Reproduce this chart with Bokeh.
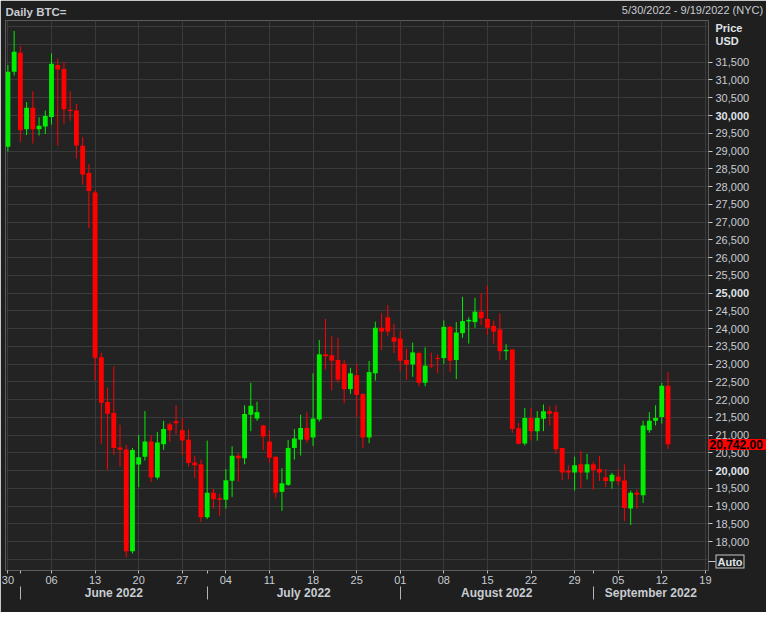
import pandas as pd
from bokeh.plotting import figure
from bokeh.models import (Range1d, FixedTicker, DatetimeAxis, DatetimeTickFormatter, LinearAxis,
                          NumeralTickFormatter, ColumnDataSource)
from bokeh.embed import file_html
from bokeh.resources import INLINE

# ---------------- data (daily BTC=, 2022-05-30 .. 2022-09-13) ----------------
start_date = "2022-05-30"
opens = [29124, 31233, 31767, 29612, 30218, 29612, 29692, 29959, 31420, 31313,
         30160, 30138, 29150, 28384, 27834, 23196, 21933, 21621, 20652, 20598,
         17731, 20171, 20393, 20820, 19805, 20748, 21309, 21389, 21140, 20873,
         20233, 20179, 18692, 19378, 19226, 19183, 19717, 20420, 20349, 21575,
         21468, 21274, 20820, 20393, 19405, 19600, 20641, 20873, 21202, 20935,
         21442, 23276, 23250, 23116, 23009, 22297, 22689, 22155, 20935, 22742,
         24024, 24318, 23757, 23722, 23116, 22991, 23312, 22475, 22965, 23170,
         23170, 24051, 23116, 23872, 24202, 24184, 24478, 24272, 24078, 23979,
         23365, 23410, 21194, 20766, 21487, 21113, 21460, 21676, 21649, 20641,
         20000, 19947, 20180, 19947, 20180, 20046, 19813, 19700, 19834, 19725,
         18933, 19378, 19306, 21140, 21407, 21514, 22395]
highs = [31420, 32381, 31954, 30379, 30680, 29951, 30138, 31748, 31599, 31500,
         30680, 30325, 29391, 28635, 27896, 23322, 22342, 22937, 21293, 20732,
         20641, 21007, 21676, 21007, 21087, 21407, 21362, 21843, 21487, 21159,
         20420, 20313, 20847, 19485, 19351, 20046, 20687, 20491, 21843, 22475,
         21941, 21290, 21140, 20400, 20073, 20865, 21175, 21575, 21648, 22742,
         23677, 24272, 23784, 23739, 23116, 22894, 23000, 22182, 23089, 24192,
         24432, 24657, 24139, 23936, 23429, 23605, 23357, 23472, 23322, 23268,
         24229, 24078, 24184, 24897, 24318, 24870, 25004, 25207, 24229, 24425,
         23562, 23420, 21344, 21763, 21763, 21676, 21864, 21811, 21843, 20650,
         20153, 20393, 20553, 20473, 20251, 20420, 20046, 19940, 20046, 20180,
         19439, 19466, 21407, 21648, 21843, 22475, 22777]
lows = [28990, 31126, 29257, 29452, 29212, 29436, 29479, 29746, 29150, 29765,
        29853, 28785, 28056, 26828, 22537, 20758, 20027, 20446, 20118, 17554,
        17669, 19538, 20286, 19680, 19752, 20588, 20820, 21025, 20446, 20118,
        19797, 18558, 18638, 18933, 18730, 18933, 19263, 19690, 20180, 21113,
        21407, 20580, 20225, 19226, 18871, 19574, 20313, 20428, 20775, 20695,
        21380, 22849, 22270, 22475, 21896, 22163, 21514, 20641, 20775, 22537,
        23402, 23784, 23311, 22804, 22564, 22644, 22377, 22377, 22894, 22742,
        23009, 22786, 22582, 23739, 23578, 24024, 24096, 23829, 23578, 23116,
        23116, 21068, 20740, 20713, 20846, 20846, 21113, 21274, 20473, 19733,
        19760, 19439, 19512, 19752, 19466, 19707, 19538, 19493, 19600, 18577,
        18470, 18933, 19092, 21068, 21274, 21327, 20607]
closes = [31233, 31794, 29586, 30218, 29612, 29711, 29986, 31455, 31294, 30173,
          30130, 29158, 28341, 27877, 23177, 21915, 21602, 20641, 20588, 17731,
          20580, 20377, 20820, 19805, 20793, 21175, 21140, 21336, 20847, 20214,
          20153, 18692, 19378, 19199, 19181, 19733, 20420, 20349, 21594, 21826,
          21648, 20961, 20366, 19378, 19645, 20641, 20908, 21202, 20873, 21468,
          23276, 23223, 23097, 22564, 22297, 22742, 22136, 20935, 22777, 24024,
          23917, 23917, 23631, 23097, 22991, 23330, 22475, 22956, 22938, 23143,
          24051, 23097, 23890, 24211, 24246, 24478, 24291, 24024, 23917, 23365,
          23402, 21175, 20758, 21487, 21113, 21487, 21676, 21602, 20607, 19947,
          19947, 20153, 19947, 20180, 20019, 19947, 19707, 19887, 19700, 18951,
          19378, 19325, 21274, 21407, 21487, 22395, 20742]

title_text = "Daily BTC="
period_text = "5/30/2022 - 9/19/2022 (NYC)"
last_price = 20742.00
price_ticks = list(range(18000, 32000, 500))      # labelled ticks
grid_ticks = list(range(17500, 33000, 500))       # horizontal grid lines
bold_ticks = [20000, 25000, 30000]
week_ticks = ["2022-05-30", "2022-06-06", "2022-06-13", "2022-06-20", "2022-06-27",
              "2022-07-04", "2022-07-11", "2022-07-18", "2022-07-25", "2022-08-01",
              "2022-08-08", "2022-08-15", "2022-08-22", "2022-08-29", "2022-09-05",
              "2022-09-12", "2022-09-19"]
month_starts = ["2022-06-01", "2022-07-01", "2022-08-01", "2022-09-01"]
view_start = "2022-05-29 14:40"
view_end = "2022-09-19 12:00"

# ---------------- styling ----------------
BG_OUT = "#1f1f1f"
BG_IN = "#232323"
GRID = "#3a3a3a"
TXT = "#c8ccd2"
TXT_B = "#dfe3e8"
UP = "#00ee00"
DOWN = "#ff0000"
FONT = "Liberation Sans"

FW, FH = 703, 550
RB = 58          # width of the right-hand price column

def ms(s):
    return pd.Timestamp(s).value / 1e6

DAY = 86400000.0
X0, X1 = ms(view_start), ms(view_end)

def frame_px_to_x(px):
    return X0 + (X1 - X0) * px / FW

dates = pd.date_range(start_date, periods=len(opens), freq="D")
colors = [UP if c >= o else DOWN for o, c in zip(opens, closes)]
src = ColumnDataSource(dict(
    date=dates, open=opens, high=highs, low=lows, close=closes,
    top=[max(o, c) for o, c in zip(opens, closes)],
    bottom=[min(o, c) for o, c in zip(opens, closes)],
    color=colors,
))

p = figure(frame_width=FW, frame_height=FH, x_axis_type="datetime",
           y_axis_location="right", output_backend="svg", toolbar_location=None,
           x_range=Range1d(X0, X1), y_range=Range1d(17190, 32675),
           min_border_left=5, min_border_right=RB, min_border_top=17, min_border_bottom=42)
p.border_fill_color = BG_OUT
p.background_fill_color = BG_IN
p.outline_line_color = "#5c5c5c"

p.segment(x0="date", y0="high", x1="date", y1="low", line_color="color", line_width=1, source=src)
p.vbar(x="date", width=0.78 * DAY, top="top", bottom="bottom", fill_color="color",
       line_color=None, source=src)

week_ms = [ms(d) for d in week_ticks]
month_ms = [ms(d) for d in month_starts]
p.xgrid.ticker = FixedTicker(ticks=week_ms)
p.xgrid.grid_line_color = GRID
p.ygrid.ticker = FixedTicker(ticks=grid_ticks)
p.ygrid.grid_line_color = GRID


def bare(ax):
    ax.axis_line_color = None
    ax.major_tick_line_color = None
    ax.minor_tick_line_color = None
    ax.major_tick_in = 0
    ax.major_tick_out = 0
    ax.minor_tick_in = 0
    ax.minor_tick_out = 0


def text_style(ax, size="11px", bold=False, color=TXT):
    ax.major_label_text_font = FONT
    ax.major_label_text_font_size = size
    ax.major_label_text_font_style = "bold" if bold else "normal"
    ax.major_label_text_color = color


# ---- day axis
xa = p.xaxis[0]
xa.ticker = FixedTicker(ticks=week_ms, minor_ticks=month_ms)
xa.formatter = DatetimeTickFormatter(days="%d", months="%d", years="%d")
xa.axis_line_color = "#5c5c5c"
xa.major_tick_line_color = "#b8b8b8"
xa.minor_tick_line_color = "#b8b8b8"
xa.major_tick_in = 0
xa.major_tick_out = 3
xa.minor_tick_in = 0
xa.minor_tick_out = 3
xa.major_label_standoff = 2
text_style(xa)

# ---- month axis
mids = [(month_ms[i] + (month_ms[i + 1] if i + 1 < len(month_ms) else X1)) / 2
        for i in range(len(month_ms))]
ma = DatetimeAxis(ticker=FixedTicker(ticks=mids, minor_ticks=month_ms),
                  formatter=DatetimeTickFormatter(days="%B %Y", months="%B %Y", years="%B %Y",
                                                  hours="%B %Y", hourmin="%B %Y"))
bare(ma)
ma.minor_tick_line_color = "#b4b4b4"
ma.minor_tick_out = 13
ma.major_label_standoff = -14
text_style(ma, "12px", True)
p.add_layout(ma, "below")

# ---- header (two text-only axes above the frame)
hx_left = frame_px_to_x(30.5)
ha = LinearAxis(ticker=FixedTicker(ticks=[hx_left]), major_label_overrides={hx_left: title_text})
bare(ha)
ha.major_label_standoff = 3
text_style(ha, "11.5px", True)
p.add_layout(ha, "above")

hx_right = frame_px_to_x(FW - 16)
hb = LinearAxis(ticker=FixedTicker(ticks=[hx_right]), major_label_overrides={hx_right: period_text})
bare(hb)
hb.major_label_standoff = -13
text_style(hb)
p.add_layout(hb, "above")

# ---- price column: first axis only reserves the whole column (invisible, empty labels)
ya = p.yaxis[0]
ya.ticker = FixedTicker(ticks=price_ticks)
ya.major_label_overrides = {v: "" for v in price_ticks}
ya.axis_line_color = None
ya.major_tick_line_color = None
ya.minor_tick_line_color = None
ya.major_tick_in = 0
ya.major_tick_out = RB
ya.minor_tick_out = 0
ya.minor_tick_in = 0
ya.major_label_standoff = 0
text_style(ya)


def column_axis(ticks, labels=None, fmt=True):
    ax = LinearAxis(ticker=FixedTicker(ticks=ticks))
    if fmt:
        ax.formatter = NumeralTickFormatter(format="0,0")
    if labels:
        ax.major_label_overrides = labels
    bare(ax)
    p.add_layout(ax, "right")
    return ax


# visible tick marks at the frame edge
yt = column_axis(price_ticks, {v: "" for v in price_ticks})
yt.major_tick_line_color = "#c8c8c8"
yt.major_tick_in = RB
yt.major_tick_out = 4 - RB

# normal price labels
yn = column_axis(price_ticks, {v: "" for v in bold_ticks})
yn.major_label_standoff = 7 - RB
text_style(yn)

# bold price labels + "Price"/"USD" header
head_price, head_usd = 32470, 32100
yb = column_axis(bold_ticks + [head_usd, head_price], {head_usd: "USD", head_price: "Price"})
yb.major_label_standoff = 7 - RB
text_style(yb, bold=True, color=TXT_B)

# last price marker: a wide red tick behind the label
yc = column_axis([last_price], {last_price: f"{last_price:,.2f}"}, fmt=False)
yc.major_tick_line_color = "#ff0000"
yc.major_tick_line_width = 11
yc.major_tick_in = RB
yc.major_tick_out = 0
yc.major_label_standoff = 1 - RB
text_style(yc, "12px", True, "#000000")

# "Auto" box
auto_pos = 17430
y_auto_t = column_axis([auto_pos], {auto_pos: ""}, fmt=False)
y_auto_t.major_tick_line_color = "#c8c8c8"
y_auto_t.major_tick_line_width = 1
y_auto_t.major_tick_in = RB
y_auto_t.major_tick_out = 7 - RB

y_auto_o = column_axis([auto_pos], {auto_pos: ""}, fmt=False)
y_auto_o.major_tick_line_color = "#c8c8c8"
y_auto_o.major_tick_line_width = 14
y_auto_o.major_tick_in = RB - 7
y_auto_o.major_tick_out = 36 - RB

y_auto_i = column_axis([auto_pos], {auto_pos: ""}, fmt=False)
y_auto_i.major_tick_line_color = BG_OUT
y_auto_i.major_tick_line_width = 12
y_auto_i.major_tick_in = RB - 8
y_auto_i.major_tick_out = 35 - RB

y_auto_l = column_axis([auto_pos], {auto_pos: "Auto"}, fmt=False)
y_auto_l.major_label_standoff = 9 - RB
text_style(y_auto_l, bold=True, color=TXT_B)

open("out.html", "w").write(file_html(p, INLINE))
